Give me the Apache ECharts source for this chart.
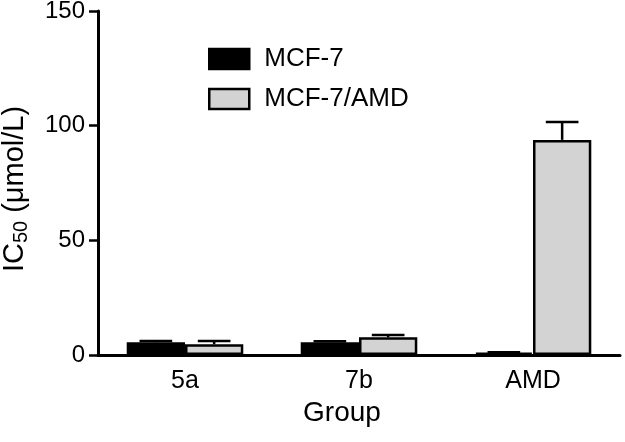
<!DOCTYPE html>
<html><head><meta charset="utf-8">
<script src="https://cdn.jsdelivr.net/npm/echarts@6/dist/echarts.min.js"></script>
<style>html,body{margin:0;padding:0;background:#fff}#c{width:625px;height:442px}</style>
</head><body><div id="c"></div>
<script>
var categories = ['5a', '7b', 'AMD'];
var mcf7 = [5.6, 5.6, 1.0];
var mcf7Err = [0.5, 0.4, 0.2];
var mcf7amd = [4.7, 7.7, 93.8];
var mcf7amdErr = [1.4, 1.0, 7.8];
var yTicks = [0, 50, 100, 150];

var FONT = 'Liberation Sans';
var chart = echarts.init(document.getElementById('c'));

function errSeries(vals, errs, side) {
  return {
    type: 'custom',
    z: 1,
    silent: true,
    data: vals.map(function (v, i) { return [i, v, v + errs[i]]; }),
    renderItem: function (params, api) {
      var catW = api.size([1, 0])[0];
      var barW = catW * 0.67 / 2;
      var p0 = api.coord([api.value(0), api.value(1)]);
      var p1 = api.coord([api.value(0), api.value(2)]);
      var x = p0[0] + side * barW / 2;
      var capHalf = barW * 0.28;
      return {
        type: 'group',
        children: [
          { type: 'line', shape: { x1: x, y1: p0[1], x2: x, y2: p1[1] }, style: { stroke: '#000', lineWidth: 2.5 } },
          { type: 'line', shape: { x1: x - capHalf, y1: p1[1], x2: x + capHalf, y2: p1[1] }, style: { stroke: '#000', lineWidth: 2.5 } }
        ]
      };
    }
  };
}

chart.setOption({
  animation: false,
  backgroundColor: '#fff',
  grid: { left: 98, right: 5, top: 11, bottom: 87, containLabel: false, outerBoundsMode: 'none' },
  legend: {
    orient: 'vertical', left: 203, top: 41, itemWidth: 40, itemHeight: 20, itemGap: 14,
    icon: 'rect',
    textStyle: { fontFamily: FONT, fontSize: 26, color: '#000', padding: [0, 0, 0, 10] },
    data: [
      { name: 'MCF-7', icon: 'rect', itemStyle: { color: '#000', borderColor: '#000', borderWidth: 2.5 } },
      { name: 'MCF-7/AMD', icon: 'rect', itemStyle: { color: '#d3d3d3', borderColor: '#000', borderWidth: 2.5 } }
    ]
  },
  xAxis: {
    type: 'category', data: categories,
    name: 'Group', nameLocation: 'middle', nameGap: 38,
    nameTextStyle: { fontFamily: FONT, fontSize: 28, color: '#000', padding: [0, 34, 0, 0] },
    axisLine: { lineStyle: { color: '#000', width: 3 } },
    axisTick: { alignWithLabel: true, length: 7, lineStyle: { color: '#000', width: 2.5 } },
    axisLabel: { fontFamily: FONT, fontSize: 25, color: '#000', margin: 14 }
  },
  yAxis: {
    type: 'value', min: 0, max: 150, interval: 50,
    name: 'IC{sub|50} (μmol/L)', nameLocation: 'middle', nameGap: 67,
    nameTextStyle: { fontFamily: FONT, fontSize: 29, color: '#000', padding: [0, 12, 0, 0],
      rich: { sub: { fontFamily: FONT, fontSize: 20, color: '#000', verticalAlign: 'bottom', padding: [12, 0, 0, 0] } } },
    axisLine: { show: true, lineStyle: { color: '#000', width: 3 } },
    axisTick: { show: true, length: 9, lineStyle: { color: '#000', width: 2.5 } },
    axisLabel: { fontFamily: FONT, fontSize: 24, color: '#000', margin: 13,
      formatter: function (v) { return yTicks.indexOf(v) >= 0 ? String(v) : ''; } },
    splitLine: { show: false }
  },
  series: [
    errSeries(mcf7, mcf7Err, -1),
    errSeries(mcf7amd, mcf7amdErr, 1),
    { name: 'MCF-7', type: 'bar', data: mcf7, barGap: '0%', barCategoryGap: '33%', z: 2,
      itemStyle: { color: '#000', borderColor: '#000', borderWidth: 2.5 } },
    { name: 'MCF-7/AMD', type: 'bar', data: mcf7amd, barGap: '0%', barCategoryGap: '33%', z: 2,
      itemStyle: { color: '#d3d3d3', borderColor: '#000', borderWidth: 2.5 } }
  ]
});
</script></body></html>
